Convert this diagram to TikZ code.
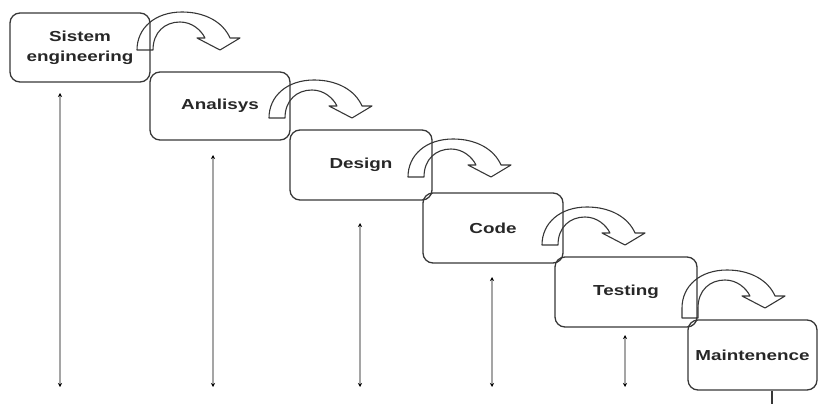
\documentclass[tikz,border=0pt]{standalone}
\usepackage{fontspec}
\newfontfamily\phasefont{Liberation Sans}[FakeStretch=1.3]
\usetikzlibrary{arrows.meta}
\definecolor{myDark}{RGB}{55,55,55}
\definecolor{myGray}{RGB}{165,165,165}
\tikzset{
  phase/.style={draw=myDark, line width=1.3pt, rounded corners=10pt, align=center,
    inner sep=0pt, text=myDark!70!black, font=\phasefont\bfseries\fontsize{14.5}{20}\selectfont},
  turn/.style={draw=myDark, line width=1.1pt, line join=round},
  span/.style={draw=myGray, line width=1.6pt,
    {Stealth[black,length=4pt,width=4pt]}-{Stealth[black,length=4pt,width=4pt]}}
}
% hollow bent arrow: #1 = lower left corner of its foot, #2 = extra foot length
\newcommand{\turnarrow}[2]{%
  \draw[turn, shift={#1}] (0,0) -- (16,0) -- (16,-#2)
    .. controls (16,-#2-18) and (28,-#2-28) .. (43,-#2-28)
    .. controls (55,-#2-28) and (64,-#2-20) .. (68,-#2-12)
    -- (60,-#2-12) -- (83,-#2) -- (103,-#2-12) -- (93,-#2-12)
    .. controls (86,-#2-28) and (68,-#2-38) .. (45,-#2-38)
    .. controls (18,-#2-38) and (0,-#2-22) .. (0,-#2) -- cycle;}

\begin{document}
\begin{tikzpicture}[x=1pt,y=-1pt]
    \useasboundingbox (0,0) rectangle (818,404);

    % the six phases
    \node[phase, minimum width=140, minimum height=69] (sys) at (80,47.5) {Sistem\\engineering};
    \node[phase, minimum width=140, minimum height=68] (ana) at (220,106) {Analisys};
    \node[phase, minimum width=142, minimum height=70] (des) at (361,165) {Design};
    \node[phase, minimum width=140, minimum height=70] (code) at (493,228) {Code};
    \node[phase, minimum width=142, minimum height=70] (test) at (626,292) {Testing};
    \node[phase, minimum width=129, minimum height=70] (maint) at (752.5,355) {Maintenence};

    % bent arrows from one phase to the next
    \turnarrow{(137,50)}{0}
    \turnarrow{(269,118)}{0}
    \turnarrow{(408,177)}{0}
    \turnarrow{(542,245)}{0}
    \turnarrow{(682,318)}{10}

    % vertical spans under each phase
    \foreach \x/\y [count=\i] in {60/93, 213/155, 360/223, 492/277, 625/335} {
        \coordinate (top\i) at (\x,\y);
        \coordinate (bot\i) at (\x,387);
        \draw[span] (top\i) -- (bot\i);
    }
    \coordinate (foot) at (772,404);
    \draw[myDark, line width=1.3pt] (maint.south -| foot) -- (foot);
\end{tikzpicture}
\end{document}
